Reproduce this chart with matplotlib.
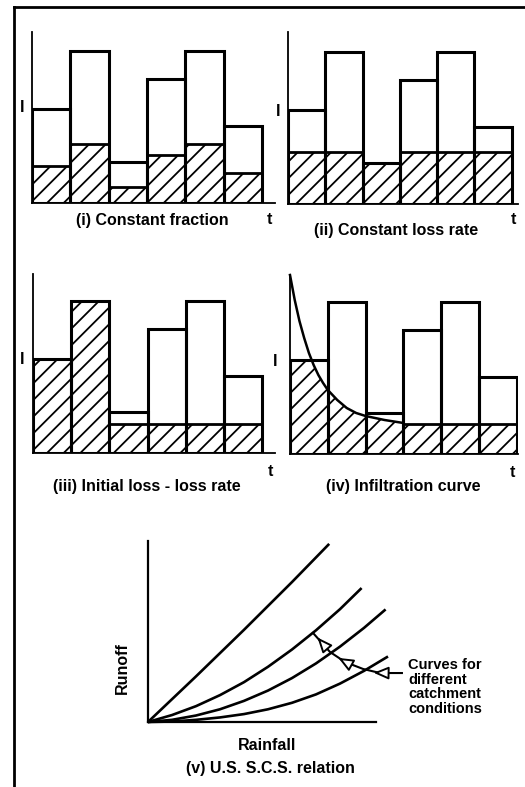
import numpy as np
import matplotlib
matplotlib.use("Agg")
import matplotlib.pyplot as plt
from matplotlib.lines import Line2D

plt.rcParams['font.family'] = ['Liberation Sans', 'DejaVu Sans']
plt.rcParams['font.weight'] = 'bold'
plt.rcParams['hatch.linewidth'] = 1.3

# rainfall hyetograph shared by the four loss models (intensity per time step)
rain = [9.4, 15.2, 4.1, 12.4, 15.2, 7.7]
steps = np.arange(len(rain))

loss_fraction = 0.39          # (i) constant fraction of rainfall
loss_rate = 5.2               # (ii) constant loss rate
initial_loss = 24.6           # (iii) initial loss depth
continuing_rate = 2.9         # (iii) loss rate after initial loss

# (iv) infiltration capacity curve
infil_t = [0, 0.125, 0.25, 0.375, 0.5, 0.625, 0.75, 0.875, 1.0, 1.25, 1.5, 1.75, 2.0, 2.5, 3.0]
infil_f = [17.9, 15.4, 13.3, 11.6, 10.1, 8.9, 7.9, 7.1, 6.4, 5.4, 4.6, 4.1, 3.8, 3.4, 3.1]
infil_final = 3.0

# (v) runoff vs rainfall for different catchment conditions
scs_curves = [
    ([0, 20, 40, 60, 75.5], [0, 19.0, 38.4, 58.3, 74.2]),
    ([0, 10, 20, 30, 40, 50, 60, 70, 80, 89], [0, 2.9, 6.6, 11.2, 16.6, 23.0, 30.2, 38.2, 47.0, 55.8]),
    ([0, 10, 20, 30, 40, 50, 60, 70, 80, 90, 99], [0, 0.9, 2.7, 5.3, 8.8, 13.1, 18.3, 24.4, 31.4, 39.2, 46.9]),
    ([0, 10, 20, 30, 40, 50, 60, 70, 80, 90, 100], [0, 0.2, 0.9, 1.9, 3.3, 5.3, 8.0, 11.5, 16.0, 21.3, 27.3]),
]

W, H = 525, 787
fig = plt.figure(figsize=(W / 100, H / 100), dpi=100)


def px_axes(left, top, right, bottom, xmax, ymax):
    ax = fig.add_axes([left / W, 1 - bottom / H, (right - left) / W, (bottom - top) / H])
    ax.set_xlim(0, xmax)
    ax.set_ylim(0, ymax)
    ax.set_xticks([])
    ax.set_yticks([])
    ax.patch.set_alpha(0)
    for side in ['top', 'right']:
        ax.spines[side].set_visible(False)
    for side in ['left', 'bottom']:
        ax.spines[side].set_linewidth(1.3)
    return ax


def ftext(x, y, s, **kw):
    kw.setdefault('ha', 'center')
    kw.setdefault('va', 'center')
    kw.setdefault('fontsize', 11.5)
    fig.text(x / W, 1 - y / H, s, **kw)


def hyetograph(ax, losses):
    ax.bar(steps, losses, width=1, align='edge', facecolor='white',
           edgecolor='black', hatch='//', linewidth=2, zorder=2)
    ax.bar(steps, rain, width=1, align='edge', fill=False,
           edgecolor='black', linewidth=2.2, zorder=3)


# (i) constant fraction
ax1 = px_axes(32, 32, 275, 203, 6.34, 17.1)
hyetograph(ax1, [r * loss_fraction for r in rain])

# (ii) constant loss rate
ax2 = px_axes(288, 32, 518, 204, 6.17, 17.2)
hyetograph(ax2, [min(r, loss_rate) for r in rain])

# (iii) initial loss then constant rate
ax3 = px_axes(33, 274, 275, 453, 6.34, 17.9)
remaining = initial_loss
losses3 = []
for r in rain:
    if remaining > 1e-6:
        l = min(r, remaining)
        remaining -= l
    else:
        l = min(r, continuing_rate)
    losses3.append(l)
hyetograph(ax3, losses3)

# (iv) infiltration curve
ax4 = px_axes(290, 275, 518, 454, 6.03, 17.9)
for i, r in enumerate(rain):
    tt = np.linspace(i, i + 1, 60)
    cap = np.interp(tt, infil_t, infil_f, right=infil_final)
    ax4.fill_between(tt, 0, np.minimum(cap, r), facecolor='white',
                     edgecolor='black', hatch='//', linewidth=0, zorder=2)
ax4.bar(steps, rain, width=1, align='edge', fill=False,
        edgecolor='black', linewidth=2.2, zorder=3)
ax4.plot(infil_t, infil_f, color='black', lw=1.8, zorder=4, clip_on=False)
ax4.plot([infil_t[-1], len(rain)], [infil_final, infil_final], color='black', lw=2, zorder=4)

# axis letters and captions
for x, y in [(22, 108), (278, 112), (22, 359), (275, 362)]:
    ftext(x, y, 'I')
for x, y in [(269, 219), (513, 220), (270, 471), (512, 472)]:
    ftext(x, y, 't')
ftext(152, 221, '(i) Constant fraction')
ftext(396, 230, '(ii) Constant loss rate')
ftext(147, 487, '(iii) Initial loss - loss rate')
ftext(403, 487, '(iv) Infiltration curve')

# (v) U.S. S.C.S. relation
ax5 = px_axes(148, 541, 376, 722, 95, 75.4)
ax5.spines['left'].set_linewidth(1.6)
ax5.spines['bottom'].set_linewidth(1.6)
for xs, ys in scs_curves:
    ax5.plot(xs, ys, color='black', lw=1.9, clip_on=False, solid_capstyle='butt')

path_x = [105.8, 96.7, 89.6, 82.1, 75.8, 72.5, 68.75]
path_y = [20.4, 20.4, 22.1, 25.0, 29.2, 32.9, 37.1]
ax5.plot(path_x, path_y, color='black', lw=1.5, clip_on=False)
heads = [((94.0, 20.5), (99.5, 20.4)), ((79.3, 26.7), (84.5, 23.8)), ((70.6, 35.2), (74.4, 30.8))]
for tip, tail in heads:
    ax5.annotate('', xy=tip, xytext=tail, annotation_clip=False,
                 arrowprops=dict(arrowstyle='-|>,head_length=0.9,head_width=0.38',
                                 fc='white', ec='black', lw=1.4, shrinkA=0, shrinkB=0))

ftext(408, 687, 'Curves for\ndifferent\ncatchment\nconditions', ha='left', fontsize=10.5, linespacing=1.05)
ftext(122, 668, 'Runoff', rotation=90)
ftext(267, 746, 'Rainfall')
ftext(270, 768, '(v) U.S. S.C.S. relation')

# frame (left and top edges)
fig.add_artist(Line2D([14 / W, 14 / W], [0, 1 - 7 / H], color='black', lw=2))
fig.add_artist(Line2D([14 / W, 1], [1 - 7 / H, 1 - 7 / H], color='black', lw=2))

fig.savefig('out.png', dpi=100, facecolor='white')
